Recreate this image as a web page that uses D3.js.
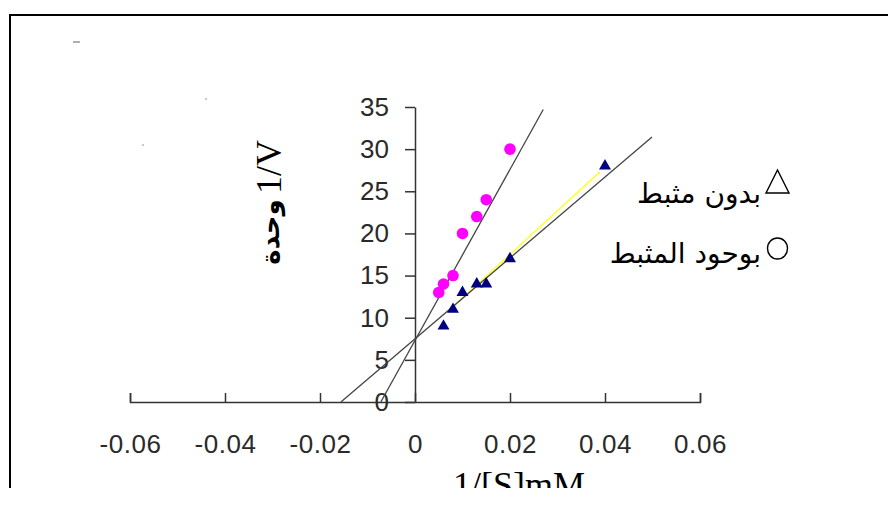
<!DOCTYPE html>
<html>
<head>
<meta charset="utf-8">
<script src="https://cdn.jsdelivr.net/npm/d3@7/dist/d3.min.js"></script>
<style>
  html, body { margin: 0; padding: 0; background: #fff; }
  svg { display: block; }
</style>
</head>
<body>
<script>
// Lineweaver–Burk plot: 1/V against 1/[S], with and without inhibitor.
const withInhibitorX = [0.005, 0.006, 0.008, 0.010, 0.013, 0.015, 0.020];
const withInhibitorY = [13, 14, 15, 20, 22, 24, 30];
const withoutInhibitorX = [0.006, 0.008, 0.010, 0.013, 0.015, 0.020, 0.040];
const withoutInhibitorY = [9, 11, 13, 14, 14, 17, 28];

// Trend lines (extended back to the x axis) and the highlighted segment.
const trendWith = [[-0.0072, 0], [0.0270, 34.7]];
const trendWithout = [[-0.0156, 0], [0.0499, 31.45]];
const highlightSegment = [[0.0080, 11.3], [0.0389, 27.3]];

const xTicks = [-0.06, -0.04, -0.02, 0, 0.02, 0.04, 0.06];
const xTickLabels = ["-0.06", "-0.04", "-0.02", "0", "0.02", "0.04", "0.06"];
const yTicks = [0, 5, 10, 15, 20, 25, 30, 35];

const xTitle = "1/[S]mM";
const yTitleUnit = "وحدة";
const yTitleVar = "1/V";
const legendLabels = ["بدون مثبط", "بوحود المثبط"];

const W = 888, H = 488;
const svg = d3.select("body").append("svg").attr("width", W).attr("height", H);

svg.append("rect").attr("width", W).attr("height", H).attr("fill", "#fff");

// frame (open on the right and bottom)
svg.append("path")
  .attr("d", "M10,488 V15 H888")
  .attr("fill", "none").attr("stroke", "#000").attr("stroke-width", 2);

// small stray marks in the upper-left area
svg.append("rect").attr("x", 73).attr("y", 41).attr("width", 7).attr("height", 2).attr("fill", "#b0b0b0");
svg.append("rect").attr("x", 205).attr("y", 98).attr("width", 2).attr("height", 2).attr("fill", "#c8c8c8");
svg.append("rect").attr("x", 142).attr("y", 144).attr("width", 2).attr("height", 2).attr("fill", "#c8c8c8");

const x = d3.scaleLinear().domain([-0.06, 0.06]).range([130, 700]);
const y = d3.scaleLinear().domain([0, 35]).range([402, 107]);

const axisColor = "#333";
const tickFont = "'Liberation Sans', Arial, sans-serif";

// x axis: ticks point up, labels well below
const xAxis = svg.append("g")
  .attr("transform", `translate(0,${y(0)})`)
  .call(d3.axisBottom(x).tickValues(xTicks)
    .tickFormat((d, i) => xTickLabels[i])
    .tickSizeInner(-9).tickSizeOuter(-9).tickPadding(33));
xAxis.select(".domain").attr("stroke", axisColor).attr("stroke-width", 1.5);
xAxis.selectAll(".tick line").attr("stroke", axisColor).attr("stroke-width", 1.5);
xAxis.selectAll(".tick text")
  .attr("font-family", tickFont).attr("font-size", 26).attr("letter-spacing", 0.6)
  .attr("fill", "#2a2a2a");

// y axis at x = 0
const yAxis = svg.append("g")
  .attr("transform", `translate(${x(0)},0)`)
  .call(d3.axisLeft(y).tickValues(yTicks).tickSizeInner(10).tickSizeOuter(0).tickPadding(16));
yAxis.select(".domain").attr("stroke", axisColor).attr("stroke-width", 1.5);
yAxis.selectAll(".tick line").attr("stroke", axisColor).attr("stroke-width", 1.5);
yAxis.selectAll(".tick text")
  .attr("font-family", tickFont).attr("font-size", 26).attr("fill", "#2a2a2a");

const line = d3.line().x(d => x(d[0])).y(d => y(d[1]));

svg.append("path").datum(highlightSegment).attr("d", line)
  .attr("stroke", "#ffff33").attr("stroke-width", 1.6).attr("fill", "none");
svg.append("path").datum(trendWith).attr("d", line)
  .attr("stroke", "#444").attr("stroke-width", 1.3).attr("fill", "none");
svg.append("path").datum(trendWithout).attr("d", line)
  .attr("stroke", "#444").attr("stroke-width", 1.3).attr("fill", "none");

// markers
svg.append("g").selectAll("circle")
  .data(withInhibitorX.map((v, i) => [v, withInhibitorY[i]]))
  .join("circle")
  .attr("cx", d => x(d[0])).attr("cy", d => y(d[1])).attr("r", 5.8)
  .attr("fill", "#ff00ff");

svg.append("g").selectAll("path")
  .data(withoutInhibitorX.map((v, i) => [v, withoutInhibitorY[i]]))
  .join("path")
  .attr("transform", d => `translate(${x(d[0])},${y(d[1])})`)
  .attr("d", d3.symbol(d3.symbolTriangle, 62))
  .attr("fill", "#000080");

// axis titles
svg.append("text")
  .attr("x", 519).attr("y", 497).attr("text-anchor", "middle")
  .attr("font-family", "'Liberation Serif', 'Times New Roman', serif")
  .attr("font-size", 36).attr("fill", "#000")
  .text(xTitle);

svg.append("text")
  .attr("transform", "translate(281,167) rotate(-90)")
  .attr("text-anchor", "middle")
  .attr("font-family", "'Liberation Serif', 'Times New Roman', serif")
  .attr("font-size", 36).attr("fill", "#000")
  .text(yTitleVar);

svg.append("text")
  .attr("transform", "translate(279,232) rotate(-90)")
  .attr("text-anchor", "middle")
  .attr("font-family", "'DejaVu Sans', sans-serif")
  .attr("font-weight", "bold")
  .attr("font-size", 26).attr("fill", "#000")
  .text(yTitleUnit);

// legend
const legend = svg.append("g");
legend.append("path")
  .attr("d", "M766,193 L789,193 L777.5,170 Z")
  .attr("fill", "none").attr("stroke", "#000").attr("stroke-width", 1.4);
legend.append("ellipse")
  .attr("cx", 777.5).attr("cy", 248.5).attr("rx", 10).attr("ry", 10.5)
  .attr("fill", "none").attr("stroke", "#000").attr("stroke-width", 1.4);
legend.selectAll("text").data(legendLabels).join("text")
  .attr("x", 761).attr("y", (d, i) => [203, 263][i])
  .attr("text-anchor", "end")
  .attr("font-family", "'DejaVu Sans', 'Noto Sans', sans-serif")
  .attr("font-size", 28).attr("fill", "#000")
  .text(d => d);
</script>
</body>
</html>
